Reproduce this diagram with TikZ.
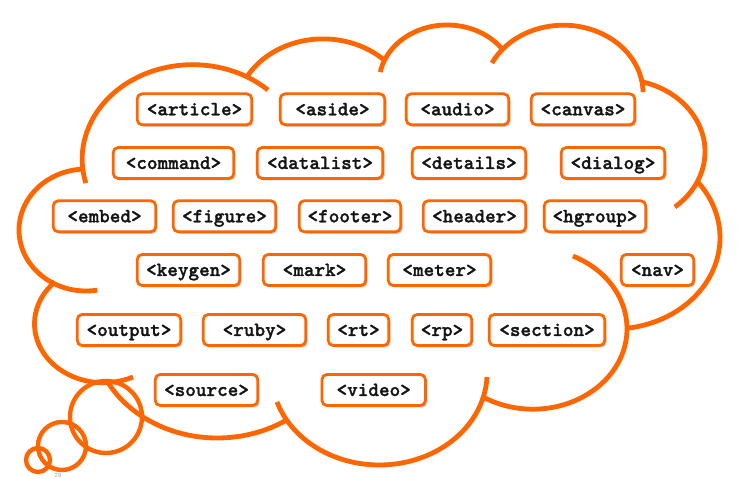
\documentclass[tikz,border=0pt]{standalone}
\usepackage{fontspec}
\newfontfamily\codefont{lmmonolt10-bold.otf}[FakeBold=1.3]
\setsansfont{Liberation Sans}
\usetikzlibrary{shadows}
\definecolor{cloudorange}{RGB}{255,102,0}
\begin{document}
\begin{tikzpicture}[x=1pt,y=1pt,
  cloudline/.style={draw=cloudorange, line width=4.8pt},
  bubble/.style={draw=cloudorange, line width=4.4pt},
  tagbox/.style={draw=cloudorange, line width=2.8pt, fill=white, rounded corners=5pt,
    minimum height=31pt, inner sep=0pt, text=black!92,
    text height=15pt, text depth=3pt,
    font={\codefont\fontsize{20.2}{22}\selectfont},
    drop shadow={shadow xshift=1.8pt, shadow yshift=-2pt, opacity=0.35, fill=black!60}},
]
\useasboundingbox (0,0) rectangle (739,479);

% cloud outline (elliptical arcs)
\draw[cloudline] (192.7,319.9) ++(194.7:110.5 and 94.4) arc[start angle=194.7, end angle=47.05, x radius=110.5, y radius=94.4];
\draw[cloudline] (323.1,365.1) ++(148.8:87.7 and 75.0) arc[start angle=148.8, end angle=46.5, x radius=87.7, y radius=75.0];
\draw[cloudline] (447.1,395.8) ++(169.0:68.1 and 58.2) arc[start angle=169.0, end angle=34.8, x radius=68.1, y radius=58.2];
\draw[cloudline] (563.4,385.7) ++(153.6:79.7 and 68.1) arc[start angle=153.6, end angle=1.1, x radius=79.7, y radius=68.1];
\draw[cloudline] (620.4,327.3) ++(74.5:84.6 and 72.3) arc[start angle=74.5, end angle=-49.9, x radius=84.6, y radius=72.3];
\draw[cloudline] (613.3,241.3) ++(38.4:106.7 and 91.3) arc[start angle=38.4, end angle=-82.1, x radius=106.7, y radius=91.3];
\draw[cloudline] (532.9,150.2) ++(64.8:94.1 and 80.4) arc[start angle=64.8, end angle=-120.6, x radius=94.1, y radius=80.4];
\draw[cloudline] (379.3,106.1) ++(-2.55:107.8 and 92.1) arc[start angle=-2.55, end angle=-161.6, x radius=107.8, y radius=92.1];
\draw[cloudline] (217.3,147.4) ++(-56.0:124.5 and 106.4) arc[start angle=-56.0, end angle=-151.4, x radius=124.5, y radius=106.4];
\draw[cloudline] (103.4,155.2) ++(-64.5:68.9 and 58.9) arc[start angle=-64.5, end angle=-225.3, x radius=68.9, y radius=58.9];
\draw[cloudline] (86,249) ++(-80.2:67 and 61) arc[start angle=-80.2, end angle=-266.5, x radius=67, y radius=61];

% thought bubbles
\draw[bubble] (106,62) circle[radius=36];
\draw[bubble] (62,33) circle[radius=24];
\draw[bubble] (38,19) circle[radius=12];

% row 1
\node[tagbox, minimum width=114.5pt] (article) at (194.5,369.7) {<article>};
\node[tagbox, minimum width=104.5pt] (aside) at (332.5,369.7) {<aside>};
\node[tagbox, minimum width=102.5pt] (audio) at (457.5,369.7) {<audio>};
\node[tagbox, minimum width=103.5pt] (canvas) at (583,369.7) {<canvas>};
% row 2
\node[tagbox, minimum width=120.5pt] (command) at (173.5,316) {<command>};
\node[tagbox, minimum width=125.5pt] (datalist) at (320,316) {<datalist>};
\node[tagbox, minimum width=113.5pt] (details) at (469,316) {<details>};
\node[tagbox, minimum width=103.5pt] (dialog) at (613,316) {<dialog>};
% row 3
\node[tagbox, minimum width=102.5pt] (embed) at (104.5,262.7) {<embed>};
\node[tagbox, minimum width=102.5pt] (figure) at (224.5,262.7) {<figure>};
\node[tagbox, minimum width=101.5pt] (footer) at (350,262.7) {<footer>};
\node[tagbox, minimum width=102.5pt] (header) at (474.5,262.7) {<header>};
\node[tagbox, minimum width=101.5pt] (hgroup) at (595,262.7) {<hgroup>};
% row 4
\node[tagbox, minimum width=102.5pt] (keygen) at (188.5,209) {<keygen>};
\node[tagbox, minimum width=102.5pt] (mark) at (314.5,209) {<mark>};
\node[tagbox, minimum width=102.5pt] (meter) at (439.5,209) {<meter>};
\node[tagbox, minimum width=72.5pt] (nav) at (657.5,209) {<nav>};
% row 5
\node[tagbox, minimum width=103.5pt] (output) at (129,149) {<output>};
\node[tagbox, minimum width=102.5pt] (ruby) at (254.5,149) {<ruby>};
\node[tagbox, minimum width=60.5pt] (rt) at (358.5,149) {<rt>};
\node[tagbox, minimum width=59.5pt] (rp) at (442,149) {<rp>};
\node[tagbox, minimum width=115.5pt] (section) at (547,149) {<section>};
% row 6
\node[tagbox, minimum width=102.5pt] (source) at (206.5,89) {<source>};
\node[tagbox, minimum width=103.5pt] (video) at (373.7,89) {<video>};

% slide number
\node[font=\sffamily\fontsize{6}{6}\selectfont, text=black!35, inner sep=0pt] (pagenum) at (58,3.5) {29};
\end{tikzpicture}
\end{document}
